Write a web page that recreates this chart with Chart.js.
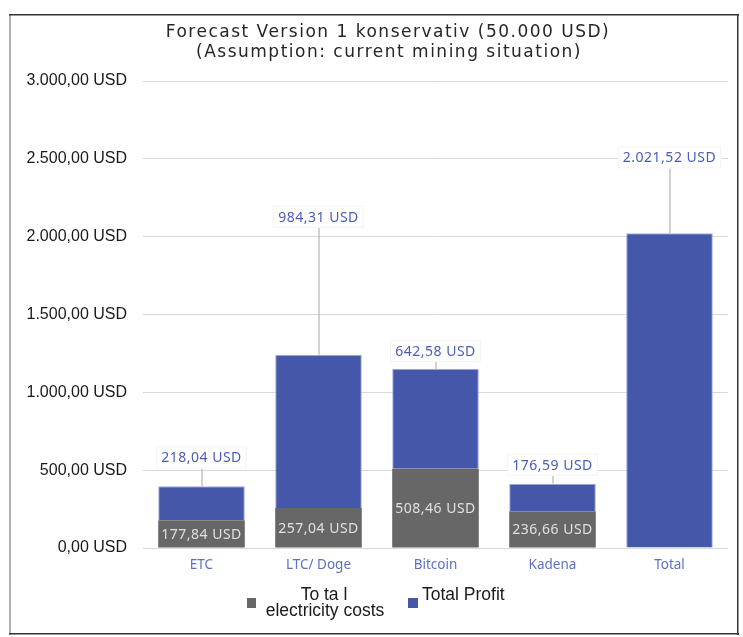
<!DOCTYPE html>
<html>
<head>
<meta charset="utf-8">
<script src="https://cdn.jsdelivr.net/npm/chart.js@4/dist/chart.umd.min.js"></script>
<style>
  html, body { margin: 0; padding: 0; background: #fff; }
  #chart { display: block; }
</style>
</head>
<body>
<canvas id="chart" width="743" height="637"></canvas>
<script>
// Chart data
const categories = ['ETC', 'LTC/ Doge', 'Bitcoin', 'Kadena', 'Total'];
const electricityCosts = [177.84, 257.04, 508.46, 236.66, 0];
const totalProfit = [218.04, 984.31, 642.58, 176.59, 2021.52];
const yTicks = [0, 500, 1000, 1500, 2000, 2500, 3000];

const titleLines = ['Forecast Version 1 konservativ (50.000 USD)', '(Assumption: current mining situation)'];
const seriesNames = [['To ta l', 'electricity costs'], ['Total Profit']];

// how far above the bar top each profit callout sits (px)
const labelLift = [29, 138, 18, 19, 76];

const grayColor = '#676767';
const blueColor = '#4457a9';
const labelBlue = '#4a5cb8';

function usd(v) {
    return v.toLocaleString('de-DE', { minimumFractionDigits: 2, maximumFractionDigits: 2 }) + ' USD';
}

// Draws value labels, callouts, title, legend and frame
const decorations = {
    id: 'decorations',
    afterDatasetsDraw(chart) {
        const ctx = chart.ctx;
        const costMeta = chart.getDatasetMeta(0);
        const profitMeta = chart.getDatasetMeta(1);
        ctx.save();
        ctx.font = '14px "Noto Sans"';
        ctx.letterSpacing = '0.5px';
        ctx.textAlign = 'center';
        ctx.textBaseline = 'middle';

        // electricity cost labels inside the gray segment
        costMeta.data.forEach((bar, i) => {
            if (!electricityCosts[i]) return;
            const mid = (bar.y + bar.base) / 2;
            ctx.fillStyle = '#e0e0e0';
            ctx.fillText(usd(electricityCosts[i]), bar.x, mid + 1);
        });

        // profit callouts above the bars
        profitMeta.data.forEach((bar, i) => {
            const text = usd(totalProfit[i]);
            const cy = bar.y - labelLift[i];
            const w = ctx.measureText(text).width + 10;
            const h = 22;
            ctx.strokeStyle = '#a6a6a6';
            ctx.lineWidth = 1;
            ctx.beginPath();
            ctx.moveTo(bar.x + 0.5, cy + h / 2);
            ctx.lineTo(bar.x + 0.5, bar.y);
            ctx.stroke();
            ctx.fillStyle = '#ffffff';
            ctx.fillRect(bar.x - w / 2, cy - h / 2, w, h);
            ctx.strokeStyle = '#f3f3f3';
            ctx.strokeRect(bar.x - w / 2 + 0.5, cy - h / 2 + 0.5, w - 1, h - 1);
            ctx.fillStyle = labelBlue;
            ctx.fillText(text, bar.x, cy + 1);
        });
        ctx.restore();
    },
    afterDraw(chart) {
        const ctx = chart.ctx;
        ctx.save();

        // frame
        ctx.fillStyle = '#b0b0b0';
        ctx.fillRect(9, 14, 2, 621);
        ctx.fillStyle = '#333333';
        ctx.fillRect(9, 14, 730, 1.5);
        ctx.fillRect(737, 14, 1.5, 621);
        ctx.fillRect(9, 633, 730, 1.5);

        // title
        ctx.font = '17px "DejaVu Sans"';
        ctx.letterSpacing = '1.5px';
        ctx.fillStyle = '#262626';
        ctx.textAlign = 'center';
        ctx.textBaseline = 'middle';
        ctx.fillText(titleLines[0], 388, 33);
        ctx.fillText(titleLines[1], 389, 53);

        // legend
        ctx.letterSpacing = '0px';
        ctx.font = '17.5px "Liberation Sans"';
        ctx.fillStyle = grayColor;
        ctx.fillRect(247, 598, 9, 10);
        ctx.fillStyle = '#1a1a1a';
        ctx.textAlign = 'center';
        ctx.textBaseline = 'alphabetic';
        ctx.fillText(seriesNames[0][0], 324, 600);
        ctx.fillText(seriesNames[0][1], 325, 616);

        ctx.fillStyle = blueColor;
        ctx.fillRect(408, 598, 10, 10);
        ctx.fillStyle = '#1a1a1a';
        ctx.textAlign = 'left';
        ctx.fillText(seriesNames[1][0], 422, 600);
        ctx.restore();
    }
};

new Chart(document.getElementById('chart'), {
    type: 'bar',
    data: {
        labels: categories,
        datasets: [{
            label: seriesNames[0].join(' '),
            data: electricityCosts,
            backgroundColor: grayColor,
            borderWidth: 0
        }, {
            label: seriesNames[1][0],
            data: totalProfit,
            backgroundColor: blueColor,
            borderColor: '#a3acdc',
            borderWidth: 1,
            borderSkipped: 'bottom'
        }]
    },
    options: {
        responsive: false,
        animation: false,
        devicePixelRatio: 1,
        layout: { padding: { top: 81, right: 15, bottom: 59, left: 0 } },
        datasets: { bar: { barPercentage: 0.74, categoryPercentage: 1 } },
        plugins: {
            legend: { display: false },
            title: { display: false },
            tooltip: { enabled: false }
        },
        scales: {
            x: {
                stacked: true,
                grid: { display: false, drawTicks: false },
                border: { display: false },
                ticks: {
                    color: '#5d6fc8',
                    font: { family: '"Noto Sans"', size: 13.5 },
                    padding: 9
                },
                afterFit: scale => { scale.height = 30; }
            },
            y: {
                stacked: true,
                min: yTicks[0],
                max: yTicks[yTicks.length - 1],
                afterBuildTicks: scale => { scale.ticks = yTicks.map(v => ({ value: v })); },
                grid: { color: '#d9d9d9', drawTicks: false },
                border: { display: false },
                ticks: {
                    color: '#1a1a1a',
                    font: { family: '"Liberation Sans"', size: 16 },
                    padding: 16,
                    callback: v => usd(v)
                },
                afterFit: scale => { scale.width = 143; }
            }
        }
    },
    plugins: [decorations]
});
</script>
</body>
</html>
